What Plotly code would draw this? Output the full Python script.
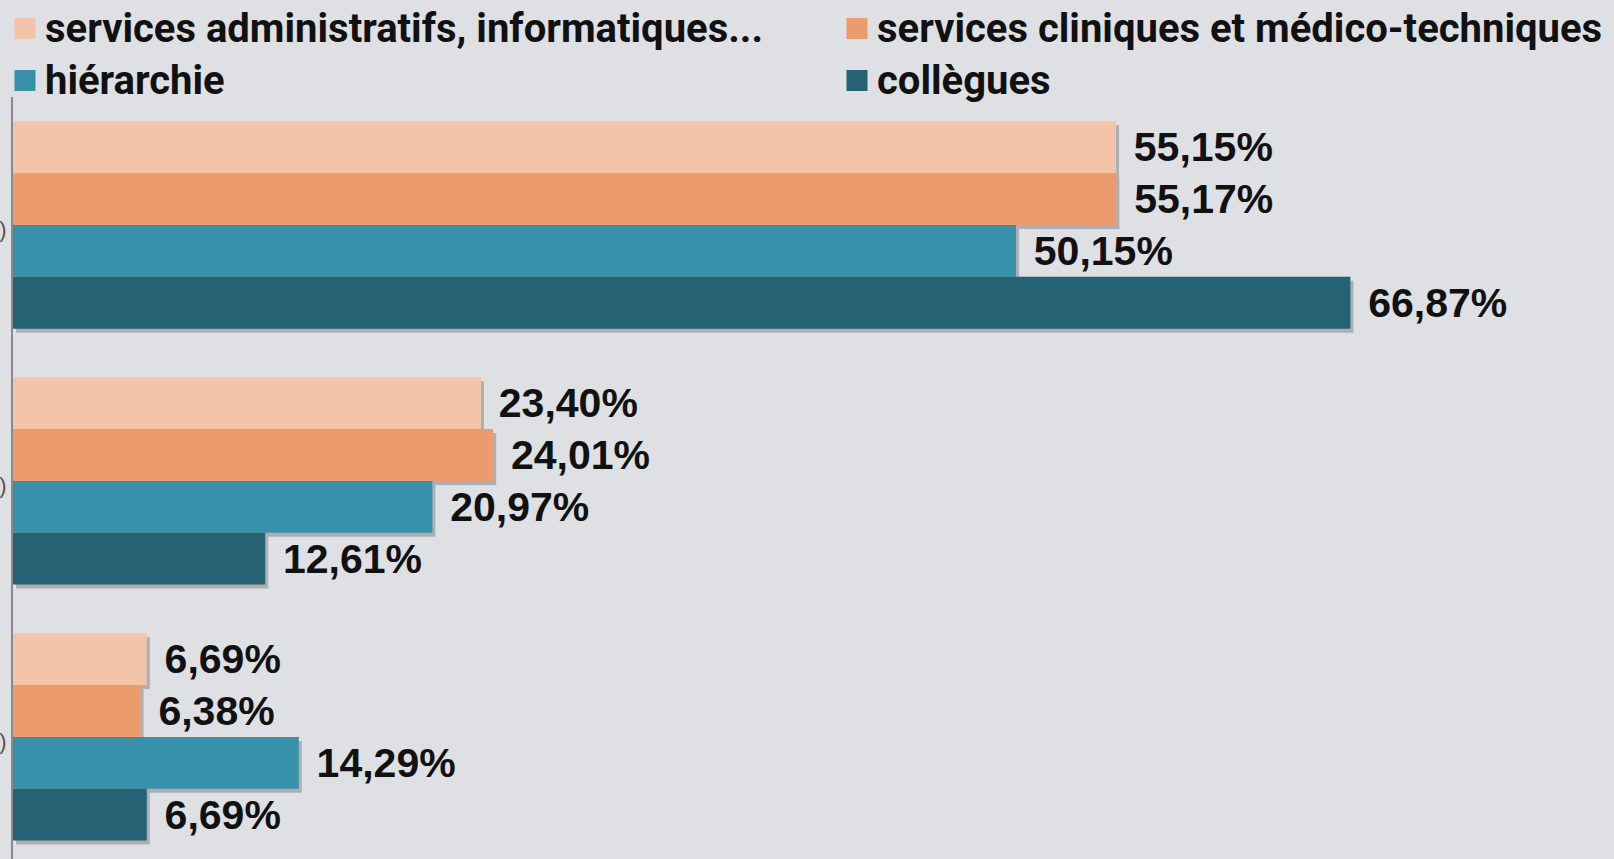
import plotly.graph_objects as go

categories = ["Réponse A (…)", "Réponse B (…)", "Réponse C (…)"]
category_tick_text = [")", ")", ")"]
series_names = [
    "services administratifs, informatiques...",
    "services cliniques et médico-techniques",
    "hiérarchie",
    "collègues",
]
admin_vals = [55.15, 23.40, 6.69]
clinique_vals = [55.17, 24.01, 6.38]
hierarchie_vals = [50.15, 20.97, 14.29]
collegues_vals = [66.87, 12.61, 6.69]
colors = ["#F4C4A9", "#EC9B6E", "#3891AA", "#256273"]

values = [admin_vals, clinique_vals, hierarchie_vals, collegues_vals]

X_MAX = 80.0
PLOT_W = 1600
PX_PER_UNIT_X = PLOT_W / X_MAX
CAT_PX = 256.0
Y_RANGE = [2.477, -0.5]
SHADOW_DX = 3 / PX_PER_UNIT_X
SHADOW_DY = 4 / CAT_PX

legend_ids = ["legend", "legend2", "legend3", "legend4"]
# legend placement in container pixels (left, top)
legend_pos = [(5, 0), (837, 0), (5, 52), (837, 52)]

fig = go.Figure()
# soft drop shadows (base axis, drawn underneath)
for name, vals in zip(series_names, values):
    fig.add_trace(go.Bar(
        y=categories, x=vals, base=SHADOW_DX, orientation="h", name=name,
        marker=dict(color="rgba(70,70,80,0.32)", line=dict(width=0)),
        showlegend=False, hoverinfo="skip", xaxis="x", yaxis="y",
    ))
# the bars themselves (overlay axis)
for name, vals, col in zip(series_names, values, colors):
    fig.add_trace(go.Bar(
        y=categories, x=vals, orientation="h", name=name,
        marker=dict(color=col, line=dict(width=0)),
        texttemplate="\u00a0\u200a%{x:.2f}%", textposition="outside",
        constraintext="none", cliponaxis=False,
        textfont=dict(family="Liberation Sans", size=41, color="#111111", weight="bold"),
        showlegend=False, xaxis="x", yaxis="y2",
    ))
# legend entries (square swatches)
for name, col, lg in zip(series_names, colors, legend_ids):
    fig.add_trace(go.Scatter(
        x=[None], y=[None], mode="markers",
        name='<span style="font-size:40px">' + name + "</span>",
        marker=dict(symbol="square", size=16, color=col, line=dict(color=col, width=5)),
        legend=lg, xaxis="x", yaxis="y2", hoverinfo="skip",
    ))

legend_font = dict(family="Roboto, Liberation Sans", size=34, color="#111111", weight="bold")
layout_legends = {}
for lg, (lx, ly) in zip(legend_ids, legend_pos):
    layout_legends[lg] = dict(
        orientation="v", xref="container", yref="container",
        x=lx / 1614, xanchor="left", y=1 - ly / 859, yanchor="top",
        font=legend_font, bgcolor="rgba(0,0,0,0)", itemsizing="trace",
    )

fig.update_layout(
    width=1614, height=859,
    barmode="group", bargap=0.19, bargroupgap=0,
    separators=", ",
    paper_bgcolor="#DFE0E4", plot_bgcolor="#DFE0E4",
    margin=dict(l=13, r=1, t=97, b=0, pad=0, autoexpand=False),
    showlegend=True,
    xaxis=dict(range=[0, X_MAX], showgrid=False, zeroline=False, showticklabels=False,
               showline=False, fixedrange=True, automargin=False),
    yaxis=dict(range=[Y_RANGE[0] - SHADOW_DY, Y_RANGE[1] - SHADOW_DY], showgrid=False, zeroline=False,
               showline=True, linecolor="#8A8A8A", linewidth=2, ticks="", ticklabelstandoff=0,
               automargin=False, tickmode="array", tickvals=categories, ticktext=category_tick_text,
               tickfont=dict(family="Liberation Sans", size=22, color="#555555")),
    yaxis2=dict(range=Y_RANGE, overlaying="y", showgrid=False, zeroline=False, showline=False,
                showticklabels=False, ticks="", automargin=False),
    font=dict(family="Liberation Sans"),
    **layout_legends,
)

fig.write_html("out.html", config={"displayModeBar": False},
               post_script="document.body.style.margin='0px';")
